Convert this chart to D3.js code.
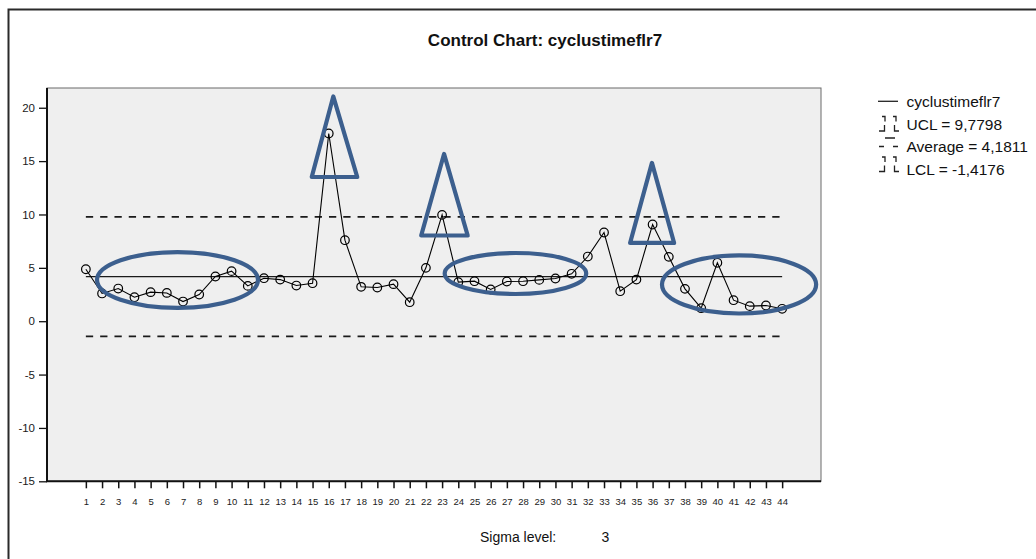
<!DOCTYPE html>
<html><head><meta charset="utf-8">
<script src="https://cdn.jsdelivr.net/npm/d3@7"></script>
<style>html,body{margin:0;padding:0;background:#fff;} svg{display:block;font-family:"Liberation Sans",Arial,sans-serif;}</style>
</head><body><svg id="c" width="1036" height="559"></svg>
<script>
const categories = [1,2,3,4,5,6,7,8,9,10,11,12,13,14,15,16,17,18,19,20,21,22,23,24,25,26,27,28,29,30,31,32,33,34,35,36,37,38,39,40,41,42,43,44];
const values = [4.87,2.6,3.06,2.25,2.72,2.65,1.84,2.5,4.19,4.69,3.31,4.03,3.9,3.34,3.56,17.59,7.59,3.22,3.16,3.47,1.78,5.0,9.96,3.66,3.75,2.97,3.72,3.75,3.87,4.0,4.44,6.06,8.31,2.81,3.9,9.06,6.03,3.03,1.22,5.47,1.97,1.41,1.47,1.16];
const limitValues = [9.7798, 4.1811, -1.4176];
const limitDashed = [true, false, true];
const legendLabels = ["cyclustimeflr7", "UCL = 9,7798", "Average = 4,1811", "LCL = -1,4176"];
const yTicks = [-15,-10,-5,0,5,10,15,20];
const titleText = "Control Chart: cyclustimeflr7";
const sigmaLabel = "Sigma level:";
const sigmaValue = "3";
// annotations in data units: [centerIndex, centerValue, radiusIndex, radiusValue]
const ellipses = [[6.66,3.86,4.97,2.62],[27.53,4.47,4.37,1.92],[41.34,3.44,4.76,2.72]];
// [apexIndex, apexValue, baseValue, baseLeftIndex, baseRightIndex]
const triangles = [[16.28,21.06,13.51,14.95,17.76],[23.12,15.67,8.03,21.71,24.58],[35.96,14.83,7.33,34.61,37.33]];

const svg = d3.select("#c");
const L = 47, R = 821, T = 88, B = 481.3;
const x = d3.scaleLinear().domain([-1.4, 46.4]).range([L, R]);
const y = d3.scaleLinear().domain([-15, 21.85]).range([B, T]);
const blue = "#3c5f8e";

// outer frame
svg.append("rect").attr("x",8.5).attr("y",9.5).attr("width",1100).attr("height",700)
  .attr("fill","none").attr("stroke","#2a2a2a").attr("stroke-width",2);

// title
svg.append("text").attr("x",545).attr("y",45.5).attr("text-anchor","middle")
  .attr("font-weight","bold").attr("font-size",17).attr("fill","#111").text(titleText);

// plot background
svg.append("rect").attr("x",L).attr("y",T).attr("width",R-L).attr("height",B-T)
  .attr("fill","#efefef").attr("stroke","#6a6a6a").attr("stroke-width",1);

// axes
const ya = svg.append("g").attr("transform",`translate(${L},0)`)
  .call(d3.axisLeft(y).tickValues(yTicks).tickSize(8).tickPadding(4).tickFormat(d=>String(d)));
ya.select(".domain").remove();
ya.selectAll("line").attr("stroke","#111").attr("stroke-width",1.3);
ya.selectAll("text").attr("font-size",11.5).attr("fill","#1a1a1a").attr("font-family","Liberation Sans, Arial, sans-serif");

const xa = svg.append("g").attr("transform",`translate(0,${B})`)
  .call(d3.axisBottom(x).tickValues(categories).tickSize(7).tickPadding(9.5).tickFormat(d=>String(d)));
xa.select(".domain").remove();
xa.selectAll("line").attr("stroke","#111").attr("stroke-width",1.5);
xa.selectAll("text").attr("font-size",9.5).attr("fill","#1a1a1a").attr("font-family","Liberation Sans, Arial, sans-serif");

svg.append("line").attr("x1",L).attr("x2",L).attr("y1",T).attr("y2",B).attr("stroke","#111").attr("stroke-width",2);
svg.append("line").attr("x1",L-1).attr("x2",R).attr("y1",B).attr("y2",B).attr("stroke","#111").attr("stroke-width",2);

// limit lines
limitValues.forEach((v,i)=>{
  svg.append("line").attr("x1",x(categories[0])).attr("x2",x(categories[categories.length-1]))
    .attr("y1",y(v)).attr("y2",y(v)).attr("stroke","#1a1a1a")
    .attr("stroke-width",limitDashed[i]?1.8:1.2)
    .attr("stroke-dasharray",limitDashed[i]?"7.3,7":null);
});

// data line + markers
const pts = categories.map((c,i)=>[c, values[i]]);
svg.append("path").datum(pts).attr("fill","none").attr("stroke","#000").attr("stroke-width",1.1)
  .attr("d", d3.line().x(d=>x(d[0])).y(d=>y(d[1])));
svg.selectAll("circle.pt").data(pts).enter().append("circle").attr("class","pt")
  .attr("cx",d=>x(d[0])).attr("cy",d=>y(d[1])).attr("r",4.3)
  .attr("fill","none").attr("stroke","#000").attr("stroke-width",1.2);

// annotations
const sx = x(1)-x(0), sy = y(0)-y(1);
ellipses.forEach(e=>{
  svg.append("ellipse").attr("cx",x(e[0])).attr("cy",y(e[1])).attr("rx",e[2]*sx).attr("ry",e[3]*sy)
    .attr("fill","none").attr("stroke",blue).attr("stroke-width",4.2);
});
triangles.forEach(t=>{
  const p = `M${x(t[0])},${y(t[1])}L${x(t[4])},${y(t[2])}L${x(t[3])},${y(t[2])}Z`;
  svg.append("path").attr("d",p).attr("fill","none").attr("stroke",blue)
    .attr("stroke-width",4.2).attr("stroke-linejoin","round");
});

// legend
const lg = svg.append("g").attr("font-size",15.5).attr("fill","#111");
const lx = 906.5, baselines = [107, 129.5, 152, 174.5];
legendLabels.forEach((t,i)=>{
  lg.append("text").attr("x",lx).attr("y",baselines[i]).text(t);
});
const sym = svg.append("g").attr("fill","none").attr("stroke","#222").attr("stroke-width",1.3);
sym.append("line").attr("x1",878).attr("x2",898).attr("y1",101.3).attr("y2",101.3);
const ucl = "M882,116.5H885V121.5M893,116.5H896V121.5M884.5,125V131H879M894.5,125V131H899M885,138H895";
sym.append("path").attr("d",ucl);
sym.append("path").attr("d","M879,146.5H884M893,146.5H898");
sym.append("path").attr("d",ucl.replace("M885,138H895","")).attr("transform","translate(0,40.5)");

// sigma text
svg.append("text").attr("x",480).attr("y",541.5).attr("font-size",14).attr("fill","#111").text(sigmaLabel);
svg.append("text").attr("x",601.5).attr("y",541.5).attr("font-size",14).attr("fill","#111").text(sigmaValue);
</script></body></html>
